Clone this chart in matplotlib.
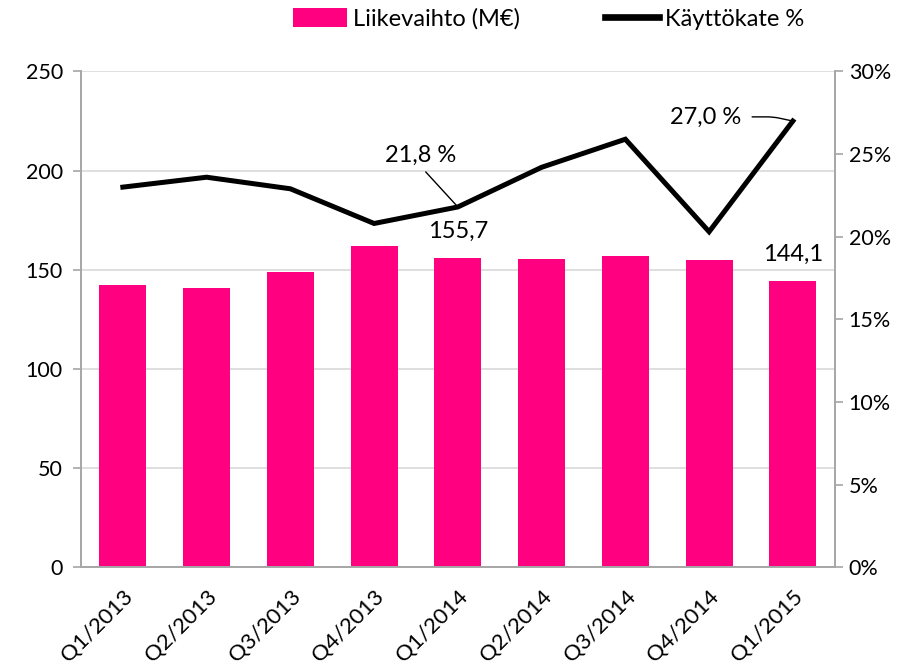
import matplotlib
matplotlib.use('Agg')
import matplotlib.pyplot as plt
from matplotlib.patches import Patch
from matplotlib.lines import Line2D
from matplotlib.ticker import FuncFormatter
import numpy as np

QUARTERS = ['Q1/2013', 'Q2/2013', 'Q3/2013', 'Q4/2013', 'Q1/2014',
            'Q2/2014', 'Q3/2014', 'Q4/2014', 'Q1/2015']
REVENUE = [142.4, 140.6, 149.0, 162.0, 155.7, 155.4, 157.0, 155.1, 144.1]
EBITDA_PCT = [23.0, 23.6, 22.9, 20.8, 21.8, 24.2, 25.9, 20.3, 27.0]

PINK = '#FF0080'
AXIS_GRAY = '#A6A6A6'


def main():
    plt.rcParams.update({'font.family': ['Lato', 'DejaVu Sans'], 'font.size': 15.5})

    fig = plt.figure(figsize=(9.17, 6.68), dpi=100)
    ax = fig.add_axes([0.0883, 0.151, 0.822, 0.742])
    ax2 = ax.twinx()

    xs = np.arange(len(QUARTERS))
    ax.bar(xs, REVENUE, width=0.56, color=PINK, zorder=2)
    ax2.plot(xs, EBITDA_PCT, color='black', linewidth=3.6, solid_joinstyle='miter', zorder=3)

    ax.set_xlim(-0.5, len(QUARTERS) - 0.5)
    ax.set_ylim(0, 250)
    ax.set_yticks([0, 50, 100, 150, 200, 250])
    ax2.set_ylim(0, 30)
    ax2.set_yticks([0, 5, 10, 15, 20, 25, 30])
    ax2.yaxis.set_major_formatter(FuncFormatter(lambda v, _: f'{v:.0f}%'))

    ax.grid(axis='y', color='#D9D9D9', linewidth=1.2, zorder=0)
    ax.set_axisbelow(True)

    for a in (ax, ax2):
        a.spines['top'].set_visible(False)
        for s in ('left', 'right', 'bottom'):
            a.spines[s].set_color(AXIS_GRAY)
            a.spines[s].set_linewidth(1.2)
    ax.tick_params(axis='y', length=6, color=AXIS_GRAY, width=1.2, pad=7)
    ax2.tick_params(axis='y', length=6, color=AXIS_GRAY, width=1.2, pad=4)
    ax.tick_params(axis='x', length=0, pad=14, labelsize=16)

    ax.set_xticks(xs)
    ax.set_xticklabels(QUARTERS, rotation=45, ha='right', va='top', rotation_mode='anchor')

    # value labels
    for i in (4, 8):
        ax.annotate(f'{REVENUE[i]:.1f}'.replace('.', ','), xy=(i, REVENUE[i]), xytext=(0, 12),
                    textcoords='offset points', ha='center', va='bottom', fontsize=17)

    ax2.annotate(f'{EBITDA_PCT[4]:.1f} %'.replace('.', ','), xy=(4, EBITDA_PCT[4]),
                 xytext=(-27, 37), textcoords='offset points', ha='center', va='center',
                 fontsize=17,
                 arrowprops=dict(arrowstyle='-', color='black', lw=1, relpos=(0.5, 0),
                                 shrinkA=3, shrinkB=0))
    ax2.annotate(f'{EBITDA_PCT[8]:.1f} %'.replace('.', ','), xy=(8, EBITDA_PCT[8]),
                 xytext=(-63, 3), textcoords='offset points', ha='center', va='center',
                 fontsize=17,
                 arrowprops=dict(arrowstyle='-', color='black', lw=1, relpos=(1, 0.5),
                                 shrinkA=6, shrinkB=0,
                                 connectionstyle='angle,angleA=0,angleB=-12,rad=6'))

    handles = [Patch(facecolor=PINK, edgecolor='none'),
               Line2D([0], [0], color='black', linewidth=4.8)]
    fig.legend(handles, ['Liikevaihto (M€)', 'Käyttökate %'], loc='center',
               bbox_to_anchor=(0.598, 0.972), ncol=2, frameon=False, fontsize=17,
               handlelength=2.3, handletextpad=0.25, columnspacing=3.6, handleheight=0.9)

    fig.savefig('out.png', dpi=100)
    plt.close(fig)


if __name__ == '__main__':
    main()
